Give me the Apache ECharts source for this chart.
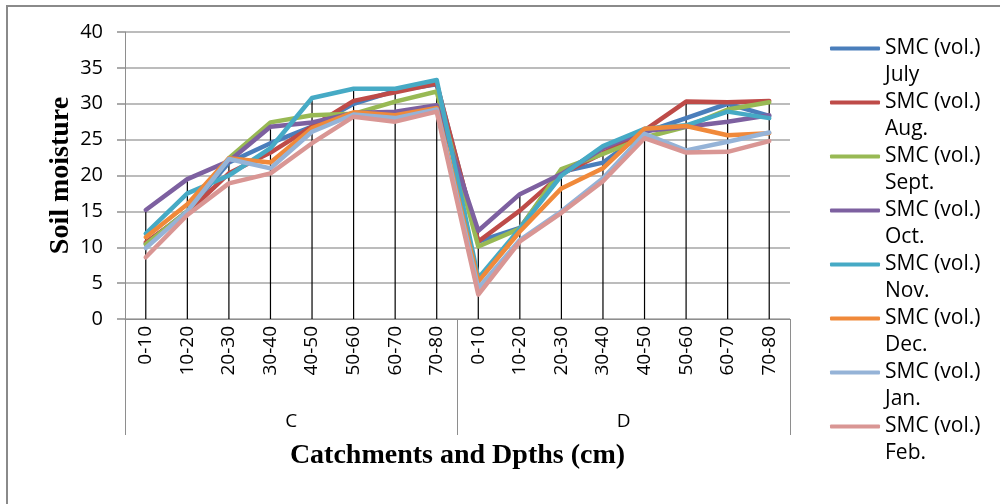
<!DOCTYPE html>
<html>
<head>
<meta charset="utf-8">
<script src="https://cdn.jsdelivr.net/npm/echarts@6/dist/echarts.min.js"></script>
<style>
  html, body { margin: 0; padding: 0; background: #fff; }
  #chart { width: 1000px; height: 504px; }
</style>
</head>
<body>
<div id="chart"></div>
<script>
// Catchments and sampling depths (cm)
const catchments = ['C', 'D'];
const depths = ['0-10', '10-20', '20-30', '30-40', '40-50', '50-60', '60-70', '70-80'];

// Soil moisture content (vol.) per month, C depths then D depths
const july = [10.5, 15.0, 21.8, 24.5, 26.8, 30.0, 31.8, 32.7, 10.8, 12.7, 20.5, 21.8, 26.0, 28.0, 30.0, 28.3];
const aug  = [10.7, 14.8, 20.3, 23.2, 26.8, 30.4, 31.6, 32.8, 10.8, 15.1, 20.2, 23.1, 26.3, 30.3, 30.2, 30.4];
const sept = [10.4, 15.0, 22.4, 27.4, 28.4, 28.6, 30.3, 31.7, 10.1, 12.6, 20.9, 23.0, 25.3, 26.8, 29.2, 30.2];
const oct  = [15.2, 19.5, 22.0, 26.8, 27.4, 28.7, 28.9, 29.8, 12.3, 17.4, 20.2, 23.8, 26.2, 26.8, 27.5, 28.4];
const nov  = [11.9, 17.5, 20.0, 23.8, 30.8, 32.1, 32.1, 33.3, 5.7, 12.6, 20.0, 24.1, 26.5, 27.0, 28.9, 28.0];
const dec  = [11.4, 16.0, 22.4, 21.8, 26.6, 28.8, 28.4, 29.4, 5.2, 12.2, 18.2, 21.0, 26.5, 26.9, 25.6, 25.9];
const jan  = [9.9, 15.0, 22.3, 21.0, 26.1, 28.5, 28.0, 29.2, 4.3, 11.0, 15.0, 19.6, 25.8, 23.5, 24.7, 26.0];
const feb  = [8.6, 14.5, 18.9, 20.3, 24.5, 28.2, 27.5, 28.9, 3.4, 10.8, 14.8, 19.2, 25.2, 23.2, 23.3, 24.8];

const monthNames = ['July', 'Aug.', 'Sept.', 'Oct.', 'Nov.', 'Dec.', 'Jan.', 'Feb.'];
const monthValues = [july, aug, sept, oct, nov, dec, jan, feb];
const monthColors = ['#4A7EBB', '#BE4B48', '#98B954', '#7D60A0', '#46AAC5', '#F0893A', '#95B3D7', '#D99694'];

// unique category keys: "C|0-10", ...
const categories = [];
catchments.forEach(c => depths.forEach(d => categories.push(c + '|' + d)));

// highest value at each category, used for the drop lines
const maxima = categories.map((_, i) => Math.max(...monthValues.map(arr => arr[i])));

const labelFont = 'Open Sans';
const grey = '#8E8E8E';

const lineSeries = monthNames.map((m, k) => ({
  name: 'SMC (vol.) ' + m,
  type: 'line',
  xAxisIndex: 0,
  data: monthValues[k],
  symbol: 'none',
  z: 3,
  lineStyle: { width: 4.5, color: monthColors[k], cap: 'round', join: 'round' },
  itemStyle: { color: monthColors[k] }
}));

const dropLines = {
  type: 'custom',
  xAxisIndex: 0,
  z: 2,
  silent: true,
  data: maxima.map((v, i) => [i, v]),
  renderItem: function (params, api) {
    const top = api.coord([api.value(0), api.value(1)]);
    const bottom = api.coord([api.value(0), 0]);
    return {
      type: 'line',
      shape: { x1: top[0], y1: top[1], x2: bottom[0], y2: bottom[1] },
      style: { stroke: '#000', lineWidth: 1.2 }
    };
  }
};

const chart = echarts.init(document.getElementById('chart'), null, { renderer: 'canvas' });
chart.setOption({
  animation: false,
  backgroundColor: '#fff',
  graphic: [{
    type: 'rect',
    shape: { x: 7, y: 6, width: 1200, height: 700 },
    style: { fill: 'none', stroke: '#8A8A8A', lineWidth: 2 },
    z: -10
  }],
  grid: { left: 125, right: 210, top: 32, bottom: 185, containLabel: false },
  legend: {
    orient: 'vertical',
    left: 830,
    top: 8,
    padding: 0,
    itemGap: -27,
    itemWidth: 50,
    itemHeight: 4,
    icon: 'roundRect',
    // blank first line keeps the swatch level with "SMC (vol.)"
    formatter: function (name) { return '\n' + name.replace('SMC (vol.) ', 'SMC (vol.)\n'); },
    textStyle: { fontFamily: labelFont, fontSize: 21, color: '#000', lineHeight: 27 },
    data: lineSeries.map(s => s.name)
  },
  xAxis: [{
    type: 'category',
    position: 'bottom',
    data: categories,
    boundaryGap: true,
    axisLine: { show: true, lineStyle: { color: grey, width: 1 } },
    axisTick: { show: false },
    axisLabel: {
      interval: 0, rotate: 90, margin: 7,
      fontFamily: labelFont, fontSize: 19, color: '#000',
      formatter: v => v.split('|')[1]
    },
    splitLine: { show: false }
  }, {
    type: 'category',
    position: 'bottom',
    data: catchments,
    boundaryGap: true,
    axisLine: { show: false },
    axisTick: { show: true, interval: 0, length: 116, lineStyle: { color: grey, width: 1 } },
    axisLabel: { interval: 0, margin: 93, fontFamily: labelFont, fontSize: 19, color: '#000' },
    name: 'Catchments and Dpths (cm)',
    nameLocation: 'middle',
    nameGap: 123,
    nameMoveOverlap: false,
    nameTextStyle: { fontFamily: 'Liberation Serif', fontWeight: 'bold', fontSize: 28, color: '#000' }
  }],
  yAxis: {
    type: 'value',
    min: 0, max: 40, interval: 5,
    axisLine: { show: true, lineStyle: { color: grey, width: 1 } },
    axisTick: { show: true, length: 8, lineStyle: { color: grey, width: 1.5 } },
    axisLabel: { margin: 22, fontFamily: labelFont, fontSize: 20, color: '#000' },
    splitLine: { show: true, lineStyle: { color: '#A6A6A6', width: 1.5 } },
    name: 'Soil moisture',
    nameLocation: 'middle',
    nameGap: 50,
    nameMoveOverlap: false,
    nameRotate: 90,
    nameTextStyle: { fontFamily: 'Liberation Serif', fontWeight: 'bold', fontSize: 28, color: '#000' }
  },
  series: [dropLines].concat(lineSeries)
});
</script>
</body>
</html>
